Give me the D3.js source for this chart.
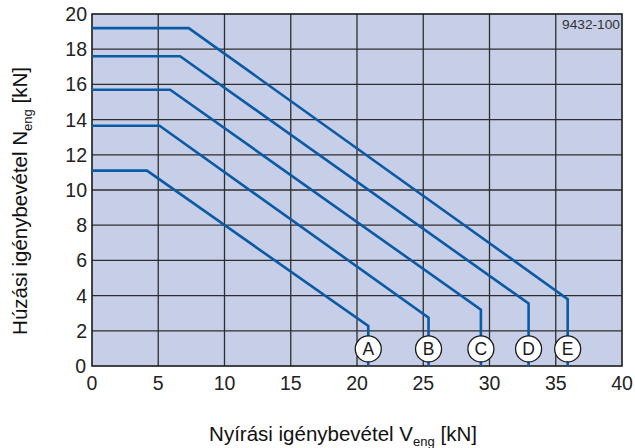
<!DOCTYPE html>
<html>
<head>
<meta charset="utf-8">
<script src="https://cdn.jsdelivr.net/npm/d3@7"></script>
<style>
  body { margin: 0; background: #fff; }
  text { font-family: "Liberation Sans", Arial, sans-serif; }
</style>
</head>
<body>
<script>
var margin = {top: 14, right: 13, bottom: 82, left: 92};
var width = 635 - margin.left - margin.right;   // 530
var height = 448 - margin.top - margin.bottom;  // 352

// curves: [V, N] break points, last point drops to N=0
var curveNames = ["A", "B", "C", "D", "E"];
var curveA = [[0, 11.1], [4.15, 11.1], [20.85, 2.27], [20.85, 0]];
var curveB = [[0, 13.65], [5.1, 13.65], [25.4, 2.75], [25.4, 0]];
var curveC = [[0, 15.7], [5.9, 15.7], [29.35, 3.2], [29.35, 0]];
var curveD = [[0, 17.6], [6.65, 17.6], [32.95, 3.55], [32.95, 0]];
var curveE = [[0, 19.2], [7.3, 19.2], [35.9, 3.8], [35.9, 0]];
var curves = [curveA, curveB, curveC, curveD, curveE];
var labelY = 0.97;

var xTicks = [0, 5, 10, 15, 20, 25, 30, 35, 40];
var yTicks = [2, 4, 6, 8, 10, 12, 14, 16, 18, 20];

var svg = d3.select("body").append("svg")
    .attr("width", 635)
    .attr("height", 448);

var g = svg.append("g")
    .attr("transform", "translate(" + margin.left + "," + margin.top + ")");

var x = d3.scaleLinear().domain([0, 40]).range([0, width]);
var y = d3.scaleLinear().domain([0, 20]).range([height, 0]);

// background
g.append("rect")
    .attr("width", width)
    .attr("height", height)
    .style("fill", "#c7cfe8");

// grid
g.selectAll(".vgrid").data(xTicks.slice(1, -1)).enter()
    .append("line")
    .attr("x1", d => x(d)).attr("x2", d => x(d))
    .attr("y1", 0).attr("y2", height)
    .style("stroke", "#2e2e2e").style("stroke-width", 1.3);

g.selectAll(".hgrid").data(yTicks.slice(0, -1)).enter()
    .append("line")
    .attr("x1", 0).attr("x2", width)
    .attr("y1", d => y(d)).attr("y2", d => y(d))
    .style("stroke", "#2e2e2e").style("stroke-width", 1.3);

// frame
g.append("rect")
    .attr("width", width)
    .attr("height", height)
    .style("fill", "none")
    .style("stroke", "#1a1a1a")
    .style("stroke-width", 1.6);

// curves
var line = d3.line().x(d => x(d[0])).y(d => y(d[1]));
g.selectAll(".curve").data(curves).enter()
    .append("path")
    .attr("d", line)
    .style("fill", "none")
    .style("stroke", "#0b5aa6")
    .style("stroke-width", 2.6)
    .style("stroke-linejoin", "miter");

// letter circles
curves.forEach(function(c, i) {
    var cx = x(c[c.length - 1][0]);
    var cy = y(labelY);
    g.append("circle")
        .attr("cx", cx).attr("cy", cy).attr("r", 13)
        .style("fill", "#fff")
        .style("stroke", "#1a1a1a")
        .style("stroke-width", 1.3);
    g.append("text")
        .attr("x", cx).attr("y", cy + 6.5)
        .attr("text-anchor", "middle")
        .style("font-size", "17.5px")
        .style("fill", "#1a1a1a")
        .text(curveNames[i]);
});

// tick labels
g.selectAll(".xt").data(xTicks).enter()
    .append("text")
    .attr("x", d => x(d))
    .attr("y", height + 24)
    .attr("text-anchor", "middle")
    .style("font-size", "19.5px")
    .style("fill", "#222")
    .text(d => d);

g.selectAll(".yt").data(yTicks).enter()
    .append("text")
    .attr("x", -5)
    .attr("y", d => y(d) + 7)
    .attr("text-anchor", "end")
    .style("font-size", "19.5px")
    .style("fill", "#222")
    .text(d => d);

g.append("text")
    .attr("x", -6)
    .attr("y", y(0) + 7)
    .attr("text-anchor", "end")
    .style("font-size", "19.5px")
    .style("fill", "#222")
    .text("0");

// code label
g.append("text")
    .attr("x", width - 2)
    .attr("y", 15)
    .attr("text-anchor", "end")
    .attr("textLength", 58)
    .attr("lengthAdjust", "spacingAndGlyphs")
    .style("font-size", "13px")
    .style("fill", "#333")
    .text("9432-100");

// axis titles
var xt = svg.append("text")
    .attr("x", 343)
    .attr("y", 441)
    .attr("text-anchor", "middle")
    .style("font-size", "20.5px")
    .style("fill", "#111");
xt.append("tspan").text("Nyírási igénybevétel V");
xt.append("tspan").attr("dy", 5).style("font-size", "13px").text("eng");
xt.append("tspan").attr("dy", -5).text(" [kN]");

var yt = svg.append("text")
    .attr("transform", "translate(27,201) rotate(-90)")
    .attr("text-anchor", "middle")
    .style("font-size", "20.5px")
    .style("fill", "#111");
yt.append("tspan").text("Húzási igénybevétel N");
yt.append("tspan").attr("dy", 5).style("font-size", "13px").text("eng");
yt.append("tspan").attr("dy", -5).text(" [kN]");
</script>
</body>
</html>
